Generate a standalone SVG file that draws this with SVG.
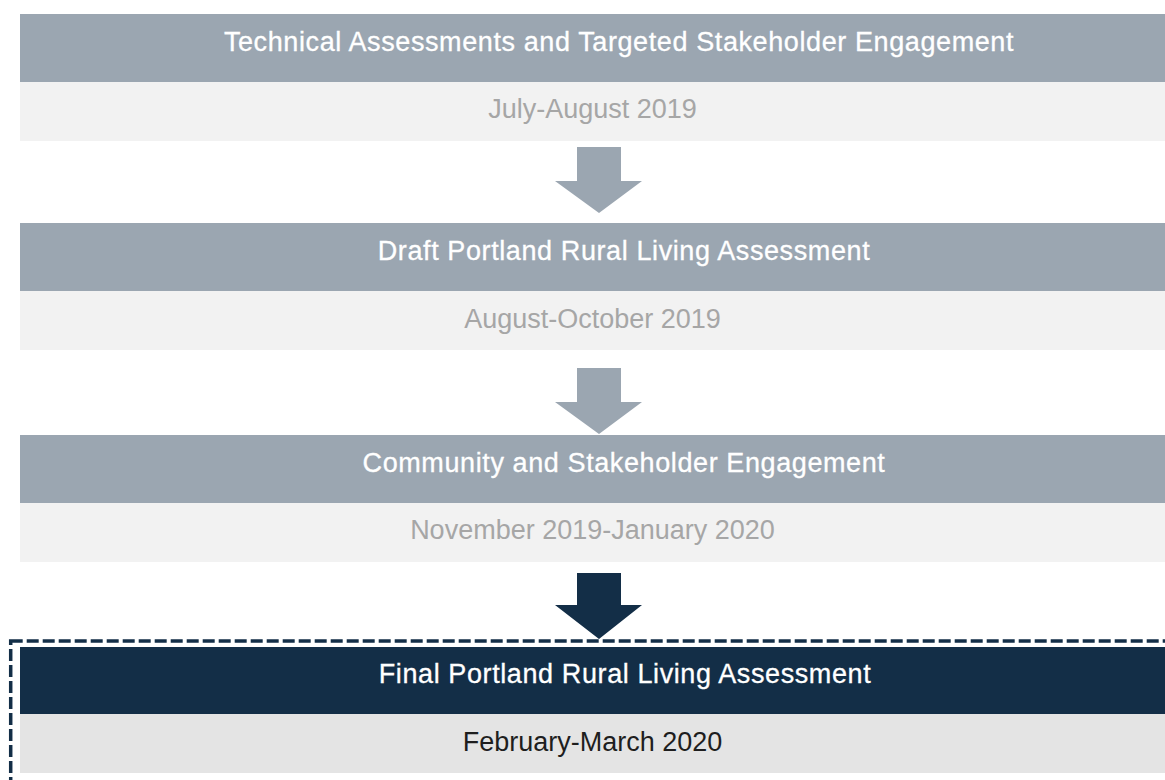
<svg xmlns="http://www.w3.org/2000/svg" width="1165" height="780" viewBox="0 0 1165 780">
  <style>
    .head { fill: #9BA6B1; }
    .band { fill: #F2F2F2; }
    .head-final { fill: #132E47; }
    .band-final { fill: #E4E4E4; }
    .title { font-family: "Liberation Sans", Arial, sans-serif; font-size: 27px; letter-spacing: 0.6px; fill: #FFFFFF; stroke: #FFFFFF; stroke-width: 0.3; text-anchor: middle; }
    .date { font-family: "Liberation Sans", Arial, sans-serif; font-size: 27px; fill: #A6A6A6; text-anchor: middle; }
    .date-final { fill: #1E1E1E; }
    .arrow { fill: #9BA6B1; }
    .arrow-final { fill: #132E47; }
    .frame { fill: none; stroke: #132E47; stroke-width: 3.5; stroke-dasharray: 12 4; }
  </style>

  <rect width="1165" height="780" fill="#FFFFFF"/>

  <g id="connectors">
    <polygon class="arrow" points="577,147 621,147 621,181 642,181 599,213 555,181 577,181"/>
    <polygon class="arrow" points="577,368 621,368 621,402 642,402 599,434 555,402 577,402"/>
    <polygon class="arrow-final" points="577,573 621,573 621,605 642,605 599,639 555,605 577,605"/>
  </g>

  <g id="step-technical">
    <rect class="head" x="20" y="14" width="1145" height="68"/>
    <rect class="band" x="20" y="82" width="1145" height="59"/>
    <text class="title" x="619" y="51">Technical Assessments and Targeted Stakeholder Engagement</text>
    <text class="date" x="592.5" y="118">July-August 2019</text>
  </g>

  <g id="step-draft">
    <rect class="head" x="20" y="223" width="1145" height="68"/>
    <rect class="band" x="20" y="291" width="1145" height="59"/>
    <text class="title" x="624" y="260">Draft Portland Rural Living Assessment</text>
    <text class="date" x="592.5" y="328">August-October 2019</text>
  </g>

  <g id="step-community">
    <rect class="head" x="20" y="435" width="1145" height="68"/>
    <rect class="band" x="20" y="503" width="1145" height="59"/>
    <text class="title" x="624" y="472">Community and Stakeholder Engagement</text>
    <text class="date" x="592.5" y="539">November 2019-January 2020</text>
  </g>

  <g id="step-final">
    <rect class="frame" x="10.7" y="641" width="1170" height="160"/>
    <rect class="head-final" x="20" y="647" width="1145" height="67"/>
    <rect class="band-final" x="20" y="714" width="1145" height="59"/>
    <text class="title" x="625" y="683">Final Portland Rural Living Assessment</text>
    <text class="date date-final" x="592.5" y="751">February-March 2020</text>
  </g>
</svg>
